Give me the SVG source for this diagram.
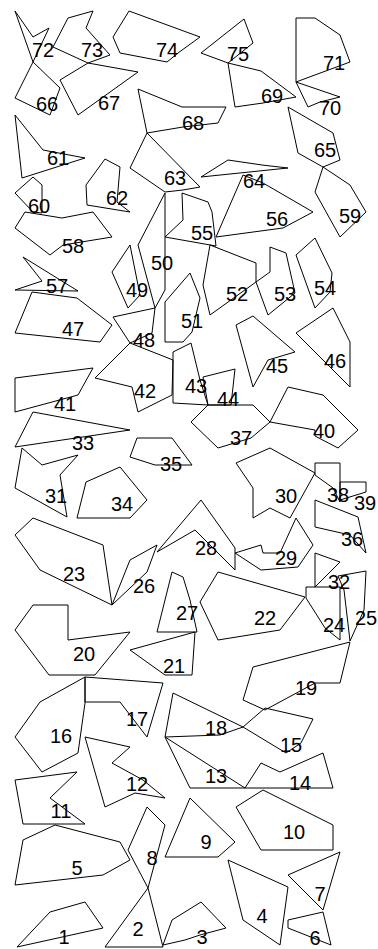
<svg xmlns="http://www.w3.org/2000/svg" width="378" height="949" viewBox="0 0 378 949">
<style>
polygon{fill:none;stroke:#000;stroke-width:1;stroke-linejoin:miter}
text{font-family:"Liberation Sans",Arial,sans-serif;font-size:20px;text-anchor:middle;fill:#000}
</style>
<rect width="378" height="949" fill="#fff"/>
<g id="p72"><polygon points="15,11 33,37 49,28 33,62"/><text x="43" y="57">72</text></g>
<g id="p66"><polygon points="33,62 15,98 50,115 60,88"/><text x="47" y="111">66</text></g>
<g id="p73"><polygon points="53,47 68,18 93,11 86,28 110,55 88,63"/><text x="92" y="57">73</text></g>
<g id="p67"><polygon points="88,63 60,80 78,115 138,72"/><text x="109" y="110">67</text></g>
<g id="p74"><polygon points="129,11 200,37 178,53 167,62 120,53 113,37"/><text x="167" y="57">74</text></g>
<g id="p75"><polygon points="244,19 253,43 228,63 201,53"/><text x="238" y="61">75</text></g>
<g id="p69"><polygon points="228,63 261,71 296,97 263,103 235,107"/><text x="272" y="103">69</text></g>
<g id="p71"><polygon points="296,18 315,18 340,35 350,62 296,82"/><text x="334" y="70">71</text></g>
<g id="p70"><polygon points="296,82 340,97 320,102 308,107"/><text x="330" y="115">70</text></g>
<g id="p68"><polygon points="138,89 182,107 226,107 218,123 183,127 147,133"/><text x="193" y="130">68</text></g>
<g id="p65"><polygon points="288,107 333,133 340,160 323,167 298,153"/><text x="325" y="157">65</text></g>
<g id="p61"><polygon points="15,115 43,150 85,158 22,178"/><text x="58" y="165">61</text></g>
<g id="p63"><polygon points="147,133 200,187 183,190 165,192 130,168"/><text x="175" y="185">63</text></g>
<g id="p62"><polygon points="105,159 120,167 117,202 130,212 87,205 86,185"/><text x="117" y="205">62</text></g>
<g id="p64"><polygon points="201,177 228,160 262,165 288,168"/><text x="254" y="188">64</text></g>
<g id="p56"><polygon points="243,175 263,183 313,212 283,228 216,237"/><text x="277" y="226">56</text></g>
<g id="p55"><polygon points="182,193 208,202 212,212 216,246 165,237 183,220"/><text x="202" y="240">55</text></g>
<g id="p59"><polygon points="323,167 350,185 366,212 340,237 315,192"/><text x="350" y="223">59</text></g>
<g id="p60"><polygon points="33,177 42,185 42,213 33,212 15,193"/><text x="39" y="213">60</text></g>
<g id="p58"><polygon points="25,212 62,218 93,212 112,237 63,245 50,255 15,228"/><text x="73" y="253">58</text></g>
<g id="p57"><polygon points="23,257 42,281 15,290 78,291"/><text x="57" y="293">57</text></g>
<g id="p50"><polygon points="165,193 165,290 155,308 138,245"/><text x="162" y="270">50</text></g>
<g id="p49"><polygon points="130,245 140,295 128,308 112,272"/><text x="137" y="297">49</text></g>
<g id="p52"><polygon points="210,245 256,263 256,282 210,315 203,285"/><text x="237" y="301">52</text></g>
<g id="p53"><polygon points="256,282 270,272 270,247 286,253 295,293 268,315"/><text x="285" y="301">53</text></g>
<g id="p54"><polygon points="296,255 315,238 332,273 330,292 315,308"/><text x="325" y="295">54</text></g>
<g id="p51"><polygon points="165,302 190,273 200,298 192,332 183,342 165,342"/><text x="192" y="328">51</text></g>
<g id="p47"><polygon points="32,292 77,298 112,325 100,342 15,333"/><text x="73" y="336">47</text></g>
<g id="p48"><polygon points="113,317 155,308 152,333 130,343"/><text x="144" y="347">48</text></g>
<g id="p42"><polygon points="130,343 173,360 172,395 138,412 132,387 95,378"/><text x="145" y="398">42</text></g>
<g id="p43"><polygon points="173,352 191,343 200,380 208,405 173,403"/><text x="196" y="393">43</text></g>
<g id="p44"><polygon points="203,377 235,369 231,405 208,405"/><text x="228" y="406">44</text></g>
<g id="p45"><polygon points="236,325 253,316 295,352 268,360 253,387"/><text x="277" y="373">45</text></g>
<g id="p46"><polygon points="296,333 333,308 350,342 350,387"/><text x="335" y="368">46</text></g>
<g id="p41"><polygon points="15,378 93,368 78,395 15,412"/><text x="65" y="411">41</text></g>
<g id="p37"><polygon points="208,405 253,405 270,422 251,438 218,448 191,422"/><text x="241" y="445">37</text></g>
<g id="p40"><polygon points="270,422 288,387 323,395 358,430 338,448 315,436 315,430"/><text x="324" y="438">40</text></g>
<g id="p33"><polygon points="33,412 130,430 15,447"/><text x="83" y="450">33</text></g>
<g id="p35"><polygon points="137,438 172,438 192,465 155,465 130,457"/><text x="171" y="471">35</text></g>
<g id="p31"><polygon points="22,448 42,465 78,455 60,475 67,517 15,488"/><text x="56" y="503">31</text></g>
<g id="p34"><polygon points="86,482 120,467 147,500 130,518 77,518"/><text x="122" y="511">34</text></g>
<g id="p30"><polygon points="236,463 270,448 315,473 290,518 270,508 253,518 253,488"/><text x="286" y="503">30</text></g>
<g id="p38"><polygon points="315,463 340,463 340,502 333,488 315,475"/><text x="338" y="502">38</text></g>
<g id="p39"><polygon points="340,482 366,482 366,492 340,500"/><text x="365" y="510">39</text></g>
<g id="p36"><polygon points="315,500 358,517 366,553 350,535 315,527"/><text x="352" y="546">36</text></g>
<g id="p23"><polygon points="33,518 103,545 112,605 40,570 15,535"/><text x="74" y="581">23</text></g>
<g id="p26"><polygon points="112,605 130,560 157,545 147,572"/><text x="144" y="593">26</text></g>
<g id="p28"><polygon points="157,552 201,500 235,548 235,570 195,530"/><text x="206" y="555">28</text></g>
<g id="p29"><polygon points="235,553 261,545 263,553 280,553 296,518 313,545 298,567 261,570"/><text x="286" y="565">29</text></g>
<g id="p32"><polygon points="315,553 340,562 315,587"/><text x="339" y="589">32</text></g>
<g id="p27"><polygon points="172,572 183,577 190,600 197,632 157,632"/><text x="187" y="620">27</text></g>
<g id="p22"><polygon points="218,572 305,597 280,630 218,640 200,602"/><text x="265" y="625">22</text></g>
<g id="p24"><polygon points="306,587 340,587 340,640 325,628 306,598"/><text x="334" y="632">24</text></g>
<g id="p25"><polygon points="338,576 366,571 364,610 350,641 344,590"/><text x="366" y="625">25</text></g>
<g id="p20"><polygon points="33,605 68,605 68,640 130,632 95,675 49,675 15,630"/><text x="84" y="661">20</text></g>
<g id="p21"><polygon points="130,650 195,632 192,675 165,675"/><text x="174" y="673">21</text></g>
<g id="p16"><polygon points="85,677 85,703 78,753 42,772 15,737 40,702"/><text x="61" y="743">16</text></g>
<g id="p17"><polygon points="85,677 163,683 147,737 120,702 85,702"/><text x="137" y="726">17</text></g>
<g id="p19"><polygon points="253,667 350,642 340,683 315,683 265,710 243,700"/><text x="306" y="695">19</text></g>
<g id="p18"><polygon points="173,693 243,727 220,735 165,737"/><text x="216" y="735">18</text></g>
<g id="p15"><polygon points="243,727 265,708 313,719 301,743 286,753"/><text x="291" y="752">15</text></g>
<g id="p12"><polygon points="85,737 130,747 112,763 143,780 165,798 135,793 105,807"/><text x="137" y="791">12</text></g>
<g id="p13"><polygon points="165,737 245,788 190,788"/><text x="216" y="783">13</text></g>
<g id="p14"><polygon points="245,788 261,763 280,772 323,753 333,788"/><text x="300" y="790">14</text></g>
<g id="p11"><polygon points="15,780 77,772 50,798 85,824 23,824"/><text x="61" y="818">11</text></g>
<g id="p5"><polygon points="55,825 120,842 130,860 103,875 15,885 23,840"/><text x="77" y="875">5</text></g>
<g id="p8"><polygon points="147,807 165,825 148,888 128,850"/><text x="152" y="865">8</text></g>
<g id="p9"><polygon points="190,798 235,842 218,857 165,857"/><text x="206" y="849">9</text></g>
<g id="p10"><polygon points="236,807 263,790 333,825 333,850 261,850"/><text x="294" y="839">10</text></g>
<g id="p2"><polygon points="148,888 163,947 105,947"/><text x="138" y="936">2</text></g>
<g id="p1"><polygon points="17,947 50,912 85,902 103,928"/><text x="64" y="944">1</text></g>
<g id="p3"><polygon points="163,945 172,920 201,902 226,928 200,935 185,940"/><text x="202" y="944">3</text></g>
<g id="p4"><polygon points="228,860 288,887 280,945 243,920"/><text x="262" y="923">4</text></g>
<g id="p7"><polygon points="340,852 288,875 323,910"/><text x="320" y="901">7</text></g>
<g id="p6"><polygon points="323,912 288,920 288,928 331,945"/><text x="315" y="945" font-size="19">6</text></g>
<g id="connectors"></g>
</svg>
